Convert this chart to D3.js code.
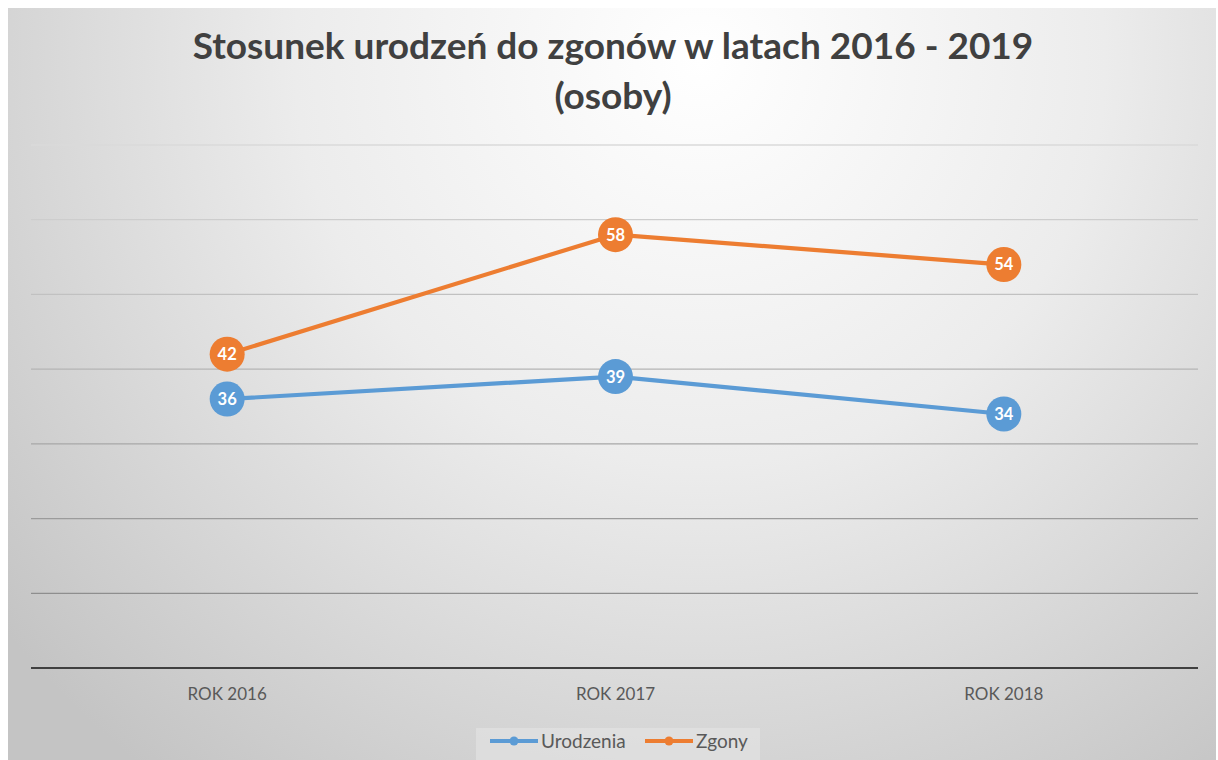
<!DOCTYPE html>
<html>
<head>
<meta charset="utf-8">
<script src="https://cdn.jsdelivr.net/npm/d3@7"></script>
<style>
  body { margin: 0; background: #fff; }
  svg { display: block; }
</style>
</head>
<body>
<svg id="chart" width="1218" height="760"></svg>
<script>
var categories = ['ROK 2016', 'ROK 2017', 'ROK 2018'];
var urodzenia = [36, 39, 34];
var zgony = [42, 58, 54];
var yTicks = [0, 10, 20, 30, 40, 50, 60, 70];
var seriesNames = ['Urodzenia', 'Zgony'];
var colors = ['#5b9bd5', '#ed7d31'];

var svg = d3.select('#chart');
var W = 1218, H = 760;
var font = 'Lato, "Open Sans", sans-serif';

// background
var defs = svg.append('defs');
var grad = defs.append('radialGradient')
    .attr('id', 'bg').attr('gradientUnits', 'userSpaceOnUse')
    .attr('cx', 700).attr('cy', 60).attr('r', 900);
grad.append('stop').attr('offset', '0%').attr('stop-color', '#ffffff');
grad.append('stop').attr('offset', '45%').attr('stop-color', '#ececec');
grad.append('stop').attr('offset', '100%').attr('stop-color', '#c4c4c4');
svg.append('rect').attr('x', 8).attr('y', 8).attr('width', W - 10).attr('height', H - 8)
    .attr('fill', 'url(#bg)');

var x = d3.scaleBand().domain(categories).range([33, 1198]);
var y = d3.scaleLinear().domain([0, 70]).range([668, 145]);

// gridlines
var gridCol = d3.scaleLinear().domain([145, 594]).range(['#dadada', '#8e8e8e']);
svg.append('g').selectAll('line').data(yTicks.slice(1)).join('line')
    .attr('x1', 31).attr('x2', 1198)
    .attr('y1', function(d) { return y(d); }).attr('y2', function(d) { return y(d); })
    .attr('stroke', function(d) { return gridCol(y(d)); })
    .attr('stroke-width', 1.3);

// x axis
var xAxis = svg.append('g').attr('transform', 'translate(0,' + y(0) + ')')
    .call(d3.axisBottom(x).tickSize(0).tickPadding(20));
xAxis.select('.domain').attr('stroke', '#404040').attr('stroke-width', 2.2)
    .attr('d', 'M31,0H1198');
xAxis.selectAll('text').attr('font-family', font).attr('font-size', 17)
    .attr('fill', '#595959');

// lines + markers
var series = [urodzenia, zgony];
var line = d3.line()
    .x(function(d, i) { return x(categories[i]) + x.bandwidth() / 2; })
    .y(function(d) { return y(d); });

series.forEach(function(vals, s) {
    var g = svg.append('g');
    g.append('path').datum(vals).attr('d', line)
        .attr('fill', 'none').attr('stroke', colors[s]).attr('stroke-width', 4.2)
        .attr('stroke-linejoin', 'round');
    var pts = g.selectAll('g.pt').data(vals).join('g')
        .attr('transform', function(d, i) {
            return 'translate(' + (x(categories[i]) + x.bandwidth() / 2) + ',' + y(d) + ')';
        });
    pts.append('circle').attr('r', 17.5).attr('fill', colors[s]);
    pts.append('text').text(function(d) { return d; })
        .attr('text-anchor', 'middle').attr('dy', '0.36em')
        .attr('font-family', font).attr('font-weight', 'bold').attr('font-size', 16.5)
        .attr('fill', '#fff');
});

// title
var title = svg.append('text').attr('text-anchor', 'middle')
    .attr('font-family', font).attr('font-weight', 'bold').attr('fill', '#404040');
title.append('tspan').attr('x', 613).attr('y', 59).attr('font-size', 37)
    .text('Stosunek urodzeń do zgonów w latach 2016 - 2019');
title.append('tspan').attr('x', 613).attr('y', 109).attr('font-size', 37)
    .text('(osoby)');
var t1 = title.select('tspan').node();
var w1 = t1.getComputedTextLength();
title.selectAll('tspan').attr('font-size', 37 * 841 / w1);

// legend
svg.append('rect').attr('x', 476).attr('y', 728).attr('width', 284).attr('height', 32)
    .attr('fill', '#e4e4e4').attr('opacity', 0.6);
var legendX = [490, 645];
seriesNames.forEach(function(name, s) {
    var lg = svg.append('g').attr('transform', 'translate(' + legendX[s] + ',741)');
    lg.append('line').attr('x1', 0).attr('x2', 48)
        .attr('stroke', colors[s]).attr('stroke-width', 4.2);
    lg.append('circle').attr('cx', 24).attr('r', 4.5).attr('fill', colors[s]);
    lg.append('text').attr('x', 51).attr('dy', '0.35em').text(name)
        .attr('font-family', font).attr('font-size', 19).attr('fill', '#595959');
});
</script>
</body>
</html>
